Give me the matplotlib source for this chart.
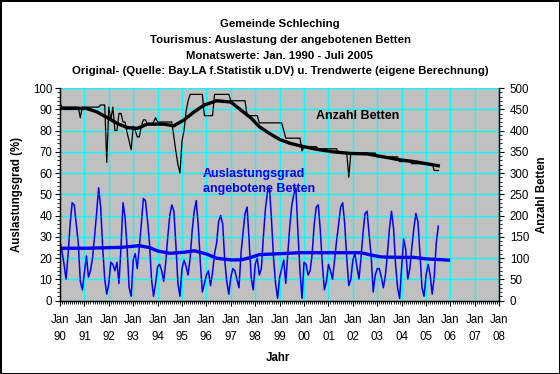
import matplotlib
matplotlib.use("Agg")
import matplotlib.pyplot as plt
import matplotlib.ticker as ticker
import numpy as np

plt.rcParams['font.family'] = ['Liberation Sans', 'DejaVu Sans']

# Auslastungsgrad (%) monthly, Jan 1990 .. Jul 2005
auslastung = [
    28, 23, 17, 10, 22, 36, 46, 45, 36, 27, 9, 5,      # 1990
    13, 21, 11, 14, 20, 30, 41, 53, 44, 25, 10, 3,     # 1991
    8, 18, 17, 14, 18, 8, 25, 46, 39, 25, 6, 2,        # 1992
    19, 22, 15, 25, 36, 48, 47, 38, 27, 10, 2, 8,      # 1993
    16, 17, 14, 9, 18, 30, 40, 45, 42, 26, 8, 2,       # 1994
    15, 19, 16, 12, 20, 33, 42, 47, 35, 18, 4, 8,      # 1995
    12, 14, 7, 13, 22, 27, 37, 40, 36, 19, 9, 3,       # 1996
    11, 15, 14, 10, 6, 22, 32, 41, 44, 28, 11, 5,      # 1997
    17, 20, 12, 15, 30, 43, 51, 53, 38, 20, 8, 1,      # 1998
    11, 15, 19, 8, 22, 35, 45, 50, 53, 32, 14, 1,      # 1999
    18, 17, 12, 14, 22, 36, 44, 45, 33, 17, 5, 9,      # 2000
    17, 14, 10, 19, 28, 36, 44, 46, 36, 20, 7, 10,     # 2001
    19, 22, 16, 10, 20, 32, 41, 42, 31, 21, 4, 12,     # 2002
    15, 15, 11, 6, 12, 22, 34, 42, 34, 17, 6, 1,       # 2003
    16, 29, 24, 10, 15, 25, 34, 41, 37, 22, 6, 2,      # 2004
    12, 17, 12, 3, 11, 27, 35,                         # 2005 (bis Juli)
]

# Anzahl Betten monthly
betten = [
    465, 455, 455, 455, 455, 455, 455, 455, 455, 455, 430, 455,   # 1990
    455, 455, 455, 455, 455, 455, 455, 455, 460, 460, 460, 325,   # 1991
    455, 425, 455, 400, 400, 440, 440, 420, 420, 395, 375, 355,   # 1992
    410, 400, 385, 385, 410, 425, 425, 415, 415, 415, 420, 430,   # 1993
    420, 420, 420, 420, 420, 420, 420, 420, 385, 350, 320, 300,   # 1994
    375, 400, 445, 470, 485, 485, 485, 485, 485, 485, 485, 435,   # 1995
    435, 435, 435, 435, 485, 485, 485, 485, 485, 485, 485, 485,   # 1996
    470, 470, 470, 470, 470, 470, 470, 470, 435, 435, 435, 435,   # 1997
    435, 435, 418, 418, 418, 418, 418, 418, 418, 418, 418, 418,   # 1998
    418, 418, 400, 382, 382, 382, 382, 382, 382, 382, 382, 352,   # 1999
    362, 362, 362, 362, 362, 362, 362, 357, 357, 357, 357, 357,   # 2000
    357, 357, 357, 357, 357, 347, 347, 347, 347, 347, 290, 347,   # 2001
    347, 347, 347, 347, 347, 347, 347, 347, 347, 347, 347, 347,   # 2002
    338, 338, 338, 338, 338, 338, 338, 338, 338, 338, 338, 327,   # 2003
    327, 327, 327, 327, 327, 322, 322, 322, 322, 322, 322, 322,   # 2004
    322, 322, 322, 322, 306, 306, 306,                            # 2005
]

# trend values (month index since Jan 1990)
trend_aus_monat = [0, 13, 30, 39, 44, 48, 54, 61, 66, 72, 77, 84, 89, 94, 98, 105,
                   118, 135, 148, 153, 158, 167, 174, 180, 191]
trend_aus = [24.6, 24.6, 25.0, 25.8, 24.9, 23.3, 22.2, 22.7, 23.4, 21.9, 19.9, 19.1,
             19.1, 20.3, 21.6, 21.9, 22.5, 22.5, 22.5, 21.4, 20.5, 20.3, 20.3, 19.6, 19.0]

trend_bet_monat = [0, 13, 18, 23, 28, 33, 38, 43, 51, 56, 61, 66, 71, 77, 84, 89, 94,
                   98, 103, 108, 113, 118, 126, 134, 143, 151, 159, 167, 174, 186]
trend_bet = [452, 452, 444, 431, 417, 407, 405, 415, 415, 411, 425, 444, 460, 470, 467,
             448, 429, 409, 393, 379, 370, 364, 356, 350, 346, 345, 338, 331, 327, 317]

jahre = ['90', '91', '92', '93', '94', '95', '96', '97', '98', '99',
         '00', '01', '02', '03', '04', '05', '06', '07', '08']

monat = np.arange(len(auslastung))

fig = plt.figure(figsize=(5.6, 3.74), dpi=100)
fig.patch.set_edgecolor('black')
fig.patch.set_linewidth(2)
ax = fig.add_axes([0.1071, 0.1965, 0.7845, 0.5682])
ax.set_facecolor('#C0C0C0')
ax2 = ax.twinx()

ax.plot(monat, auslastung, color='#0000FF', lw=1.1, zorder=3)
ax.plot(trend_aus_monat, trend_aus, color='#0000FF', lw=2.4, zorder=4)
ax2.plot(monat, betten, color='black', lw=0.9, zorder=3)
ax2.plot(trend_bet_monat, trend_bet, color='black', lw=2.4, zorder=4)

ax.set_xlim(0, 216)
ax.set_ylim(0, 100)
ax2.set_ylim(0, 500)
ax.set_xticks(np.arange(0, 217, 12))
ax.set_xticklabels(['Jan\n' + j for j in jahre], linespacing=1.55)
ax.xaxis.set_minor_locator(ticker.MultipleLocator(1))
ax.yaxis.set_major_locator(ticker.MultipleLocator(10))
ax.yaxis.set_minor_locator(ticker.MultipleLocator(2))
ax2.yaxis.set_major_locator(ticker.MultipleLocator(50))
ax2.yaxis.set_minor_locator(ticker.MultipleLocator(10))

ax.grid(True, which='major', color='#00FFFF', lw=1)
ax.set_axisbelow(True)
ax.tick_params(which='major', length=3.5, width=0.8, labelsize=8.3, pad=2)
ax.tick_params(axis='x', which='major', pad=6)
ax.tick_params(which='minor', length=2, width=0.6)
ax2.tick_params(which='major', length=3.5, width=0.8, labelsize=8.3, pad=4)
ax2.tick_params(which='minor', length=2, width=0.6)

for a in (ax, ax2):
    a.spines['top'].set_visible(False)
    for s in ('left', 'right', 'bottom'):
        a.spines[s].set_linewidth(0.9)

ax.set_ylabel('Auslastungsgrad (%)', fontsize=8.3, fontweight='bold')
ax.yaxis.set_label_coords(-0.085, 0.5)
ax2.set_ylabel('Anzahl Betten', fontsize=8.3, fontweight='bold', rotation=90)
ax2.yaxis.set_label_coords(1.083, 0.5)
ax.set_xlabel('Jahr', fontsize=8.3, fontweight='bold')
ax.xaxis.set_label_coords(0.497, -0.243)

ax.text(0.677, 0.868, 'Anzahl Betten', transform=ax.transAxes, fontsize=9,
        fontweight='bold', ha='center', va='center', zorder=5)
ax.text(0.3255, 0.56, 'Auslastungsgrad\nangebotene Betten', transform=ax.transAxes,
        fontsize=9, fontweight='bold', color='#0000FF', ha='left', va='center',
        linespacing=1.25, zorder=5)

titel = ['Gemeinde Schleching',
         'Tourismus: Auslastung der angebotenen Betten',
         'Monatswerte: Jan. 1990 - Juli 2005',
         'Original- (Quelle: Bay.LA f.Statistik u.DV) u. Trendwerte (eigene Berechnung)']
for i, t in enumerate(titel):
    fig.text(0.5, 1 - (24 + i * 15.8) / 374, t, ha='center', va='center',
             fontsize=8.2, fontweight='bold')

fig.savefig('out.png', dpi=100)
